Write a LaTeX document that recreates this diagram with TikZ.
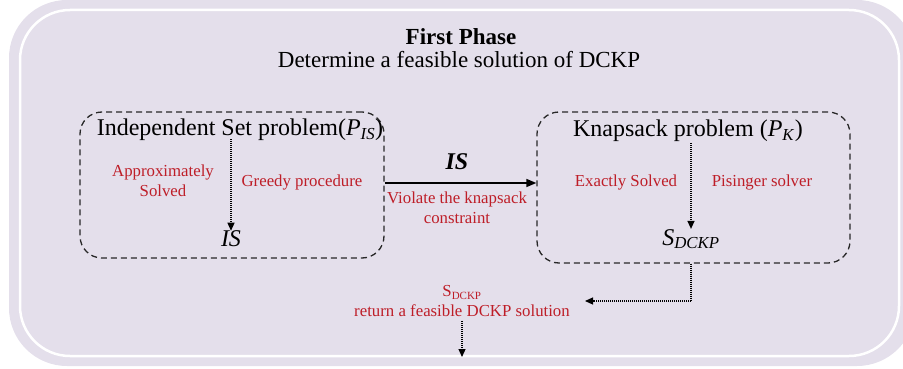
\documentclass[tikz,border=0pt]{standalone}
\usepackage{fontspec}
\setmainfont{Liberation Serif}
\usetikzlibrary{arrows.meta}
\definecolor{lav}{RGB}{228,223,235}
\definecolor{redtxt}{RGB}{190,30,40}
\definecolor{dk}{RGB}{40,40,40}
\tikzset{
  dbox/.style={draw=dk, dashed, dash pattern=on 6pt off 4pt, line width=1.3pt, rounded corners=22pt},
  main/.style={font=\fontsize{24}{28}\selectfont, text=black, inner sep=0pt},
  red/.style={font=\fontsize{16.8}{20}\selectfont, text=redtxt, align=center, inner sep=0pt},
  dotarrow/.style={draw=black, line width=1.2pt, dash pattern=on 1.2pt off 0.8pt, -{Triangle[length=8pt,width=7pt]}},
  dotline/.style={draw=black, line width=1.2pt, dash pattern=on 1.2pt off 0.8pt},
  solidarrow/.style={draw=black, line width=1.6pt, -{Triangle[length=10pt,width=8pt]}}
}
\newcommand{\subit}[2]{\textit{#1}\textsubscript{\textit{#2}}}
\begin{document}
\begin{tikzpicture}[x=1pt,y=-1pt]
\useasboundingbox (0,0) rectangle (903,369);
\fill[lav, rounded corners=58pt] (9,0) rectangle (915,366);
\draw[white, line width=2.5pt, rounded corners=50pt] (20,10) rectangle (899,356);
% title
\node[main, font=\fontsize{23}{26}\selectfont\bfseries] (t1) at (461,37) {First Phase};
\node[main, font=\fontsize{23}{26}\selectfont] (t2) at (459,60) {Determine a feasible solution of DCKP};
% left box
\node[dbox, minimum width=304pt, minimum height=146pt] (lb) at (232,185) {};
\node[main] (lt) at (240,130) {Independent Set problem(\subit{P}{IS})};
\node[main] (lis) at (231,239) {\textit{IS}};
\coordinate (la) at (231,139);
\draw[dotarrow] (la) -- (lis.north);
\node[red] (appr) at (163,181) {Approximately\\Solved};
\node[red] (greedy) at (302,182) {Greedy procedure};
% right box
\node[dbox, minimum width=313pt, minimum height=151pt] (rb) at (693.5,187.5) {};
\node[main] (rt) at (688,131) {Knapsack problem (\subit{P}{K})};
\node[main] (rs) at (691,239) {\subit{S}{DCKP}};
\coordinate (ra) at (691,143);
\draw[dotarrow] (ra) -- (rs.north);
\node[red] (exact) at (626,182) {Exactly Solved};
\node[red] (pis) at (762,182) {Pisinger solver};
% middle arrow
\draw[solidarrow] (lb.east |- 0,183) -- (rb.west |- 0,183);
\node[main] (mis) at (457,162) {\textbf{\textit{IS}}};
\node[red] (viol) at (457,208) {Violate the knapsack\\constraint};
% output
\node[red] (out) at (462,301) {S\textsubscript{\fontsize{11}{12}\selectfont DCKP}\\return a feasible DCKP solution};
\coordinate (c1) at (691,301);
\coordinate (c2) at (585,301);
\draw[dotline] (rb.south -| c1) -- (c1);
\draw[dotarrow] (c1) -- (c2);
\coordinate (c3) at (462,357);
\draw[dotarrow] (out.south -| c3) ++(0,4) -- (c3);
\end{tikzpicture}
\end{document}
